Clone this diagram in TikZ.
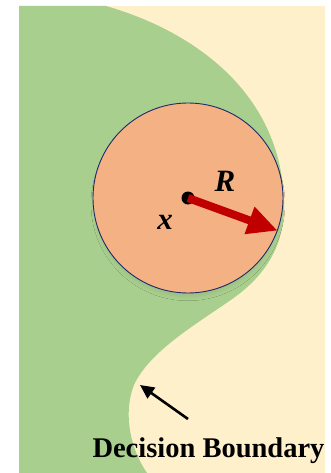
\documentclass[tikz,border=0pt]{standalone}
\usepackage{fontspec}
\setmainfont{Liberation Serif}
\usetikzlibrary{arrows.meta,shadows.blur}
\definecolor{greenreg}{HTML}{A9CF8E}
\definecolor{creamreg}{HTML}{FFF0CC}
\definecolor{ballfill}{HTML}{F4B183}
\definecolor{ballline}{HTML}{1F2A6B}
\definecolor{arrowred}{HTML}{C00000}
\tikzset{
  ball/.style={circle, fill=ballfill, draw=ballline, line width=0.9pt, minimum size=190pt, inner sep=0pt,
    blur shadow={shadow xshift=0pt, shadow yshift=-6pt, shadow scale=0.96, shadow blur steps=12, shadow blur radius=6pt, shadow opacity=12}},
  centerdot/.style={circle, fill=black, minimum size=13pt, inner sep=0pt},
  mathlabel/.style={font=\fontsize{31}{31}\selectfont\bfseries\itshape, inner sep=0pt},
  caption/.style={font=\fontsize{28.5}{30}\selectfont\bfseries, inner sep=0pt, anchor=base},
  radiusarrow/.style={draw=arrowred, line width=8pt, -{Triangle[length=30pt,width=27pt]}, shorten >=0pt},
  pointer/.style={draw=black, line width=2.6pt, -{Triangle[length=14pt,width=13pt]}}
}
\begin{document}
\begin{tikzpicture}[x=1pt,y=-1pt]
\useasboundingbox (0,0) rectangle (331,473);
\fill[white] (0,0) rectangle (331,473);
\fill[creamreg] (19,6) rectangle (325,473);
\fill[greenreg] (19,6) -- (106,6)
  .. controls (190,30) and (280,90) .. (284,200)
  .. controls (286,245) and (265,275) .. (235,297)
  .. controls (200,322) and (150,350) .. (134,385)
  .. controls (124,410) and (128,445) .. (147,473)
  -- (19,473) -- cycle;
\node[ball] (ball) at (188,198) {};
\node[centerdot] (c) at (188,198) {};
\coordinate (tip) at (ball.-20.5);
\draw[radiusarrow] (c.center) -- (tip);
\node[mathlabel] (R) at (225,181) {R};
\node[mathlabel] (x) at (165,222) {x};
\coordinate (ptail) at (188,419);
\coordinate (phead) at (140,385);
\draw[pointer] (ptail) -- (phead);
\node[caption] (cap) at (208.5,457) {Decision Boundary};
\end{tikzpicture}
\end{document}
